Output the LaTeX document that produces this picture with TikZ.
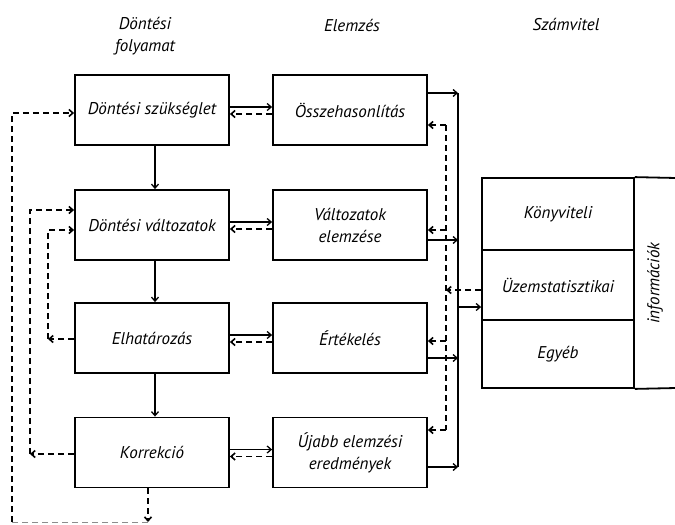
\documentclass[tikz,border=0pt]{standalone}
\usepackage{fontspec}
\setmainfont{PT Sans}
\usetikzlibrary{arrows.meta}
\begin{document}
\begin{tikzpicture}[x=1pt,y=-1pt,
  txt/.style={font=\itshape\fontsize{17}{22}\selectfont,align=center,inner sep=0pt},
  box/.style={txt,draw,line width=1.8pt,minimum width=154pt,minimum height=70pt},
  sbox/.style={txt,draw,line width=1.8pt,minimum width=152pt},
  arr/.style={line width=1.3pt,-{Straight Barb[length=4pt,width=7pt]}},
  dsh/.style={line width=1.6pt,dash pattern=on 6pt off 4pt},
  ln/.style={line width=1.5pt}]
\useasboundingbox (0,0) rectangle (675,525);
% headers
\node[txt] (h1) at (145,36) {Döntési\\folyamat};
\node[txt] (h2) at (352,25) {Elemzés};
\node[txt] (h3) at (566,24) {Számvitel};
% left column
\node[box] (d1) at (152,110) {Döntési szükséglet};
\node[box] (d2) at (152,225) {Döntési változatok};
\node[box] (d3) at (152,338) {Elhatározás};
\node[box] (d4) at (152,452.5) {Korrekció};
% middle column
\node[box] (m1) at (350,110) {Összehasonlítás};
\node[box] (m2) at (350,225) {Változatok\\elemzése};
\node[box] (m3) at (350,338) {Értékelés};
\node[box] (m4) at (350,452.5) {Újabb elemzési\\eredmények};
% right block
\node[sbox,minimum height=72pt] (kv) at (558,214) {Könyviteli};
\node[sbox,minimum height=70pt] (uz) at (558,285) {Üzemstatisztikai};
\node[sbox,minimum height=68pt] (eg) at (558,354) {Egyéb};
\draw[line width=1.8pt] (kv.north east) -- (676,178);
\draw[line width=1.8pt] (eg.south east) -- (676,388);
\node[txt,rotate=90] (inf) at (655,283) {információk};
% down arrows
\draw[arr] ([xshift=3pt]d1.south) -- ([xshift=3pt]d2.north);
\draw[arr] ([xshift=3pt]d2.south) -- ([xshift=3pt]d3.north);
\draw[arr] ([xshift=3pt]d3.south) -- ([xshift=3pt]d4.north);
% left-middle pairs
\foreach \a/\b in {d1/m1,d2/m2,d3/m3,d4/m4}{
  \draw[arr] ([yshift=3pt]\a.east) -- ([yshift=3pt]\b.west);
  \draw[arr,dsh] ([yshift=-4pt]\b.west) -- ([yshift=-4pt]\a.east);
}
% solid collector
\coordinate (s1) at (458,93);
\coordinate (s2) at (458,240);
\coordinate (s3) at (458,358);
\coordinate (s4) at (458,467);
\draw[ln] (s1) -- (s4);
\draw[arr] (m1.east |- s1) -- (s1);
\draw[arr] (m2.east |- s2) -- (s2);
\draw[arr] (m3.east |- s3) -- (s3);
\draw[arr] (m4.east |- s4) -- (s4);
% dashed distributor
\coordinate (q1) at (446,125);
\coordinate (q2) at (446,230);
\coordinate (q3) at (446,341);
\coordinate (q4) at (446,430);
\draw[dsh] (q1) -- (q4);
\draw[arr,dsh] (q1) -- (m1.east |- q1);
\draw[arr,dsh] (q2) -- (m2.east |- q2);
\draw[arr,dsh] (q3) -- (m3.east |- q3);
\draw[arr,dsh] (q4) -- (m4.east |- q4);
% right block links
\coordinate (r1) at (446,290);
\coordinate (r2) at (458,307);
\draw[arr,dsh] (uz.west |- r1) -- (r1);
\draw[arr] (r2) -- (uz.west |- r2);
% left feedback loops
\coordinate (L1) at (12,113);
\coordinate (B0) at (12,522);
\coordinate (B1) at (148,522);
\draw[arr,dsh] ([xshift=-4pt]d4.south) -- (B1);
\draw[dsh,line width=1pt,black!45] (B1) -- (B0);
\draw[arr,dsh] (B0) -- (L1) -- (d1.west |- L1);
\coordinate (L2t) at (30,210);
\coordinate (L2b) at (30,454);
\draw[arr,dsh] (d4.west |- L2b) -- (L2b);
\draw[arr,dsh] (L2b) -- (L2t) -- (d2.west |- L2t);
\coordinate (L3t) at (48,230);
\coordinate (L3b) at (48,339);
\draw[arr,dsh] (d3.west |- L3b) -- (L3b);
\draw[arr,dsh] (L3b) -- (L3t) -- (d2.west |- L3t);
\end{tikzpicture}
\end{document}
